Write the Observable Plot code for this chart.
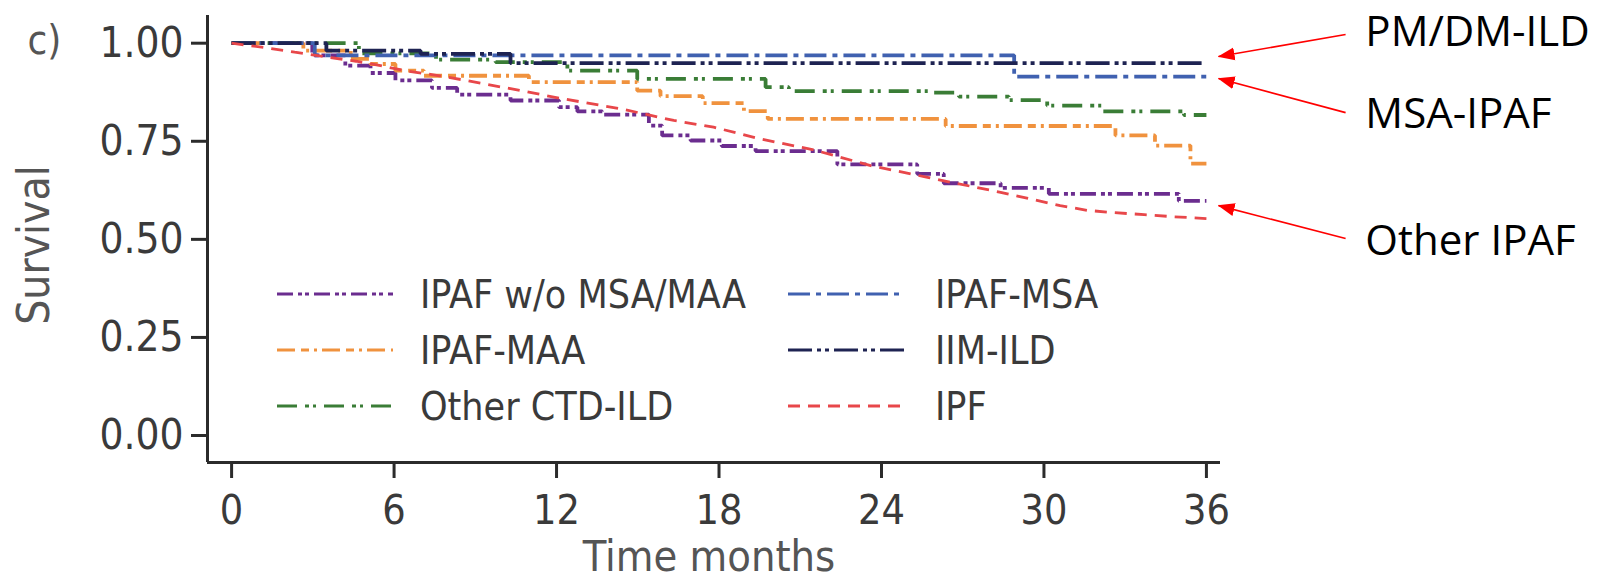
<!DOCTYPE html>
<html>
<head>
<meta charset="utf-8">
<script src="https://cdn.jsdelivr.net/npm/d3@7"></script>
<script src="https://cdn.jsdelivr.net/npm/@observablehq/plot@0.6"></script>
<style>
  html, body { margin: 0; padding: 0; background: #ffffff; }
  #wrap { position: relative; width: 1600px; height: 583px; overflow: hidden; background: #fff; }
  #chart svg { display: block; }
  #chart svg [aria-label^="y-axis"] text { font-size: 42px; fill: #3a3a3a; }
  #chart svg [aria-label^="x-axis"] text { font-size: 41px; fill: #3a3a3a; }
  #chart svg [aria-label^="x-axis"] line, #chart svg [aria-label^="x-axis"] path,
  #chart svg [aria-label^="y-axis"] line, #chart svg [aria-label^="y-axis"] path { stroke-width: 3px; stroke: #2b2b2b; }
  #chart svg g[font-family^="Open Sans"], #chart svg g[font-family^="Open Sans"] text { font-stretch: normal; }
  #legend { position: absolute; left: 0; top: 0; width: 1600px; height: 583px; pointer-events: none; }
  .item { position: absolute; display: flex; align-items: center; height: 44px; }
  .item span { font-family: "DejaVu Sans Condensed", "DejaVu Sans", sans-serif; font-stretch: condensed; font-size: 39px; color: #3a3a3a; white-space: nowrap; }
</style>
</head>
<body>
<div id="wrap"><div id="chart"></div><div id="legend"></div></div>
<script>
// ---------- data ----------
const seriesNames = ["IPAF w/o MSA/MAA", "IPAF-MAA", "Other CTD-ILD", "IPAF-MSA", "IIM-ILD", "IPF"];

const ipafWoMonths = [0, 2.98, 4.2, 5.13, 6.05, 7.4, 8.33, 10.3, 12.09, 12.77, 13.69, 15.41, 15.9, 16.95, 18.1, 19.35, 22.37, 25.32, 26.3, 28.4, 30.18, 34.98, 36];
const ipafWoSurv   = [1, 0.969, 0.943, 0.924, 0.905, 0.886, 0.869, 0.854, 0.837, 0.826, 0.818, 0.790, 0.765, 0.752, 0.738, 0.725, 0.691, 0.667, 0.643, 0.631, 0.616, 0.598, 0.598];

const ipafMaaMonths = [0, 2.65, 4.4, 5.13, 6.05, 7.1, 10.98, 14.98, 15.84, 17.4, 18.92, 19.8, 26.37, 32.64, 34.1, 35.41, 36];
const ipafMaaSurv   = [1, 0.981, 0.96, 0.947, 0.930, 0.917, 0.901, 0.879, 0.865, 0.847, 0.827, 0.807, 0.789, 0.765, 0.739, 0.693, 0.693];

const ctdMonths = [0, 4.7, 7.55, 9.75, 12.4, 14.98, 19.72, 20.58, 25.75, 26.86, 28.7, 30.12, 32.15, 35.17, 36];
const ctdSurv   = [1, 0.974, 0.958, 0.952, 0.930, 0.909, 0.888, 0.878, 0.874, 0.864, 0.855, 0.841, 0.826, 0.817, 0.817];

const ipafMsaMonths = [0, 3.07, 28.9, 36];
const ipafMsaSurv   = [1, 0.969, 0.915, 0.915];

const iimMonths = [0, 3.5, 6.98, 10.3, 36];
const iimSurv   = [1, 0.981, 0.973, 0.949, 0.949];

const ipfMonths = [0, 1.3, 2.33, 3.4, 4.6, 5.35, 6.4, 7.4, 8.5, 10.3, 12.26, 14.36, 16.33, 17.8, 19.53, 21.5, 23.6, 25.7, 26.67, 28.4, 29.5, 30.6, 31.6, 32.6, 33.7, 34.7, 36];
const ipfSurv   = [1, 0.988, 0.977, 0.966, 0.954, 0.945, 0.930, 0.920, 0.907, 0.884, 0.858, 0.833, 0.803, 0.786, 0.756, 0.728, 0.688, 0.658, 0.644, 0.620, 0.603, 0.586, 0.574, 0.568, 0.563, 0.558, 0.553];

const xTicks = [0, 6, 12, 18, 24, 30, 36];
const yTicks = [0, 0.25, 0.5, 0.75, 1];

// right-hand annotations (months / survival units)
const noteLabels     = ["PM/DM-ILD", "MSA-IPAF", "Other IPAF"];
const noteTextMonth  = [41.87, 41.87, 41.87];
const noteTextSurv   = [1.027, 0.818, 0.4945];
const arrowTailMonth = [41.14, 41.14, 41.14];
const arrowTailSurv  = [1.022, 0.823, 0.502];
const arrowTipMonth  = [36.45, 36.45, 36.45];
const arrowTipSurv   = [0.966, 0.910, 0.586];

// ---------- styles ----------
const seriesStyle = {
  "IPAF w/o MSA/MAA": {color: "#6b2d8f", dash: "16,5,4,3,4,5", curve: "step-after", width: 3.8},
  "IPAF-MAA":         {color: "#f0923e", dash: "18,6,8,5,3,5", curve: "step-after", width: 3.8},
  "Other CTD-ILD":    {color: "#3a7d36", dash: "20,8,4,4,3,8", curve: "step-after", width: 3.8},
  "IPAF-MSA":         {color: "#4061b0", dash: "22,6,5,6", curve: "step-after", width: 3.8},
  "IIM-ILD":          {color: "#1e2352", dash: "24,5,4,4,4,5", curve: "step-after", width: 3.8},
  "IPF":              {color: "#e8474a", dash: "12,8", curve: "linear", width: 2.8}
};
const seriesData = {
  "IPAF w/o MSA/MAA": [ipafWoMonths, ipafWoSurv],
  "IPAF-MAA": [ipafMaaMonths, ipafMaaSurv],
  "Other CTD-ILD": [ctdMonths, ctdSurv],
  "IPAF-MSA": [ipafMsaMonths, ipafMsaSurv],
  "IIM-ILD": [iimMonths, iimSurv],
  "IPF": [ipfMonths, ipfSurv]
};
const table = seriesNames.flatMap(name => {
  const [ms, ss] = seriesData[name];
  return ms.map((m, i) => ({series: name, month: m, surv: ss[i]}));
});
const notes = noteLabels.map((label, i) => ({
  label, tx: noteTextMonth[i], ty: noteTextSurv[i],
  x1: arrowTailMonth[i], y1: arrowTailSurv[i], x2: arrowTipMonth[i], y2: arrowTipSurv[i]
}));

const cond = "DejaVu Sans Condensed, DejaVu Sans, sans-serif";
const xDomain = [-0.89, 36.52];
const yDomain = [-0.0688, 1.0706];

function filledArrow(color, context) {
  const doc = (context && context.document) || document;
  const ns = "http://www.w3.org/2000/svg";
  const m = doc.createElementNS(ns, "marker");
  m.setAttribute("viewBox", "0 -7 17 14");
  m.setAttribute("markerUnits", "userSpaceOnUse");
  m.setAttribute("markerWidth", "17");
  m.setAttribute("markerHeight", "14");
  m.setAttribute("refX", "16");
  m.setAttribute("refY", "0");
  m.setAttribute("orient", "auto");
  const p = doc.createElementNS(ns, "path");
  p.setAttribute("d", "M0,-6.5L17,0L0,6.5Z");
  p.setAttribute("fill", color);
  p.setAttribute("stroke", "none");
  m.appendChild(p);
  return m;
}

function build(marker) {
  return Plot.plot({
    width: 1600, height: 583,
    marginLeft: 207, marginRight: 380, marginTop: 15, marginBottom: 121,
    style: {fontFamily: cond, fontStretch: "condensed", fontSize: "40px", color: "#3a3a3a", background: "transparent", overflow: "visible"},
    x: {domain: xDomain, ticks: xTicks, tickSize: 16, tickPadding: 16, tickFormat: d => String(d), label: null},
    y: {domain: yDomain, ticks: yTicks, tickSize: 16, tickPadding: 8, tickFormat: d => d.toFixed(2), label: null},
    marks: [
      Plot.ruleX([xDomain[0]], {stroke: "#2b2b2b", strokeWidth: 3}),
      Plot.ruleY([yDomain[0]], {stroke: "#2b2b2b", strokeWidth: 3}),
      ...seriesNames.map(name => Plot.line(table.filter(d => d.series === name), {
        x: "month", y: "surv", curve: seriesStyle[name].curve,
        stroke: seriesStyle[name].color, strokeWidth: seriesStyle[name].width,
        strokeDasharray: seriesStyle[name].dash, strokeLinecap: "butt", strokeLinejoin: "miter"
      })),
      Plot.link(notes, {x1: "x1", y1: "y1", x2: "x2", y2: "y2", stroke: "#ff0000", strokeWidth: 1.6, markerEnd: marker}),
      Plot.text(notes, {x: "tx", y: "ty", text: "label", textAnchor: "start", lineAnchor: "middle",
        fontFamily: "Open Sans, Liberation Sans, sans-serif", fontSize: 42, fill: "#000"}),
      Plot.text(["c)"], {text: d => d, frameAnchor: "top-left", dx: -180, dy: 26, textAnchor: "start", lineAnchor: "middle", fontSize: 40, fill: "#555"}),
      Plot.text(["Survival"], {text: d => d, frameAnchor: "left", dx: -173, dy: 6, rotate: -90, textAnchor: "middle", lineAnchor: "middle", fontSize: 44, fill: "#555"}),
      Plot.text(["Time months"], {text: d => d, frameAnchor: "bottom", dx: -5, dy: 95, textAnchor: "middle", lineAnchor: "middle", fontSize: 43, fill: "#555"})
    ]
  });
}

let svg;
try { svg = build(filledArrow); } catch (e) { svg = build("arrow"); }
document.getElementById("chart").appendChild(svg);

// ---------- legend ----------
const legendCols = [{lineX: 277, lineW: 116, textX: 420}, {lineX: 788, lineW: 116, textX: 935}];
const legendRows = [294, 350, 406];
const legendOrder = [["IPAF w/o MSA/MAA", 0, 0], ["IPAF-MSA", 0, 1], ["IPAF-MAA", 1, 0], ["IIM-ILD", 1, 1], ["Other CTD-ILD", 2, 0], ["IPF", 2, 1]];
const legend = document.getElementById("legend");
legendOrder.forEach(([name, r, c]) => {
  const col = legendCols[c], yc = legendRows[r], st = seriesStyle[name];
  const item = document.createElement("div");
  item.className = "item";
  item.style.left = col.lineX + "px";
  item.style.top = (yc - 22) + "px";
  item.innerHTML = `<svg width="${col.lineW}" height="44"><line x1="0" x2="${col.lineW}" y1="22" y2="22" stroke="${st.color}" stroke-width="3.2" stroke-dasharray="${st.dash}"/></svg><span style="margin-left:${col.textX - col.lineX - col.lineW}px">${name}</span>`;
  legend.appendChild(item);
});
</script>
</body>
</html>
